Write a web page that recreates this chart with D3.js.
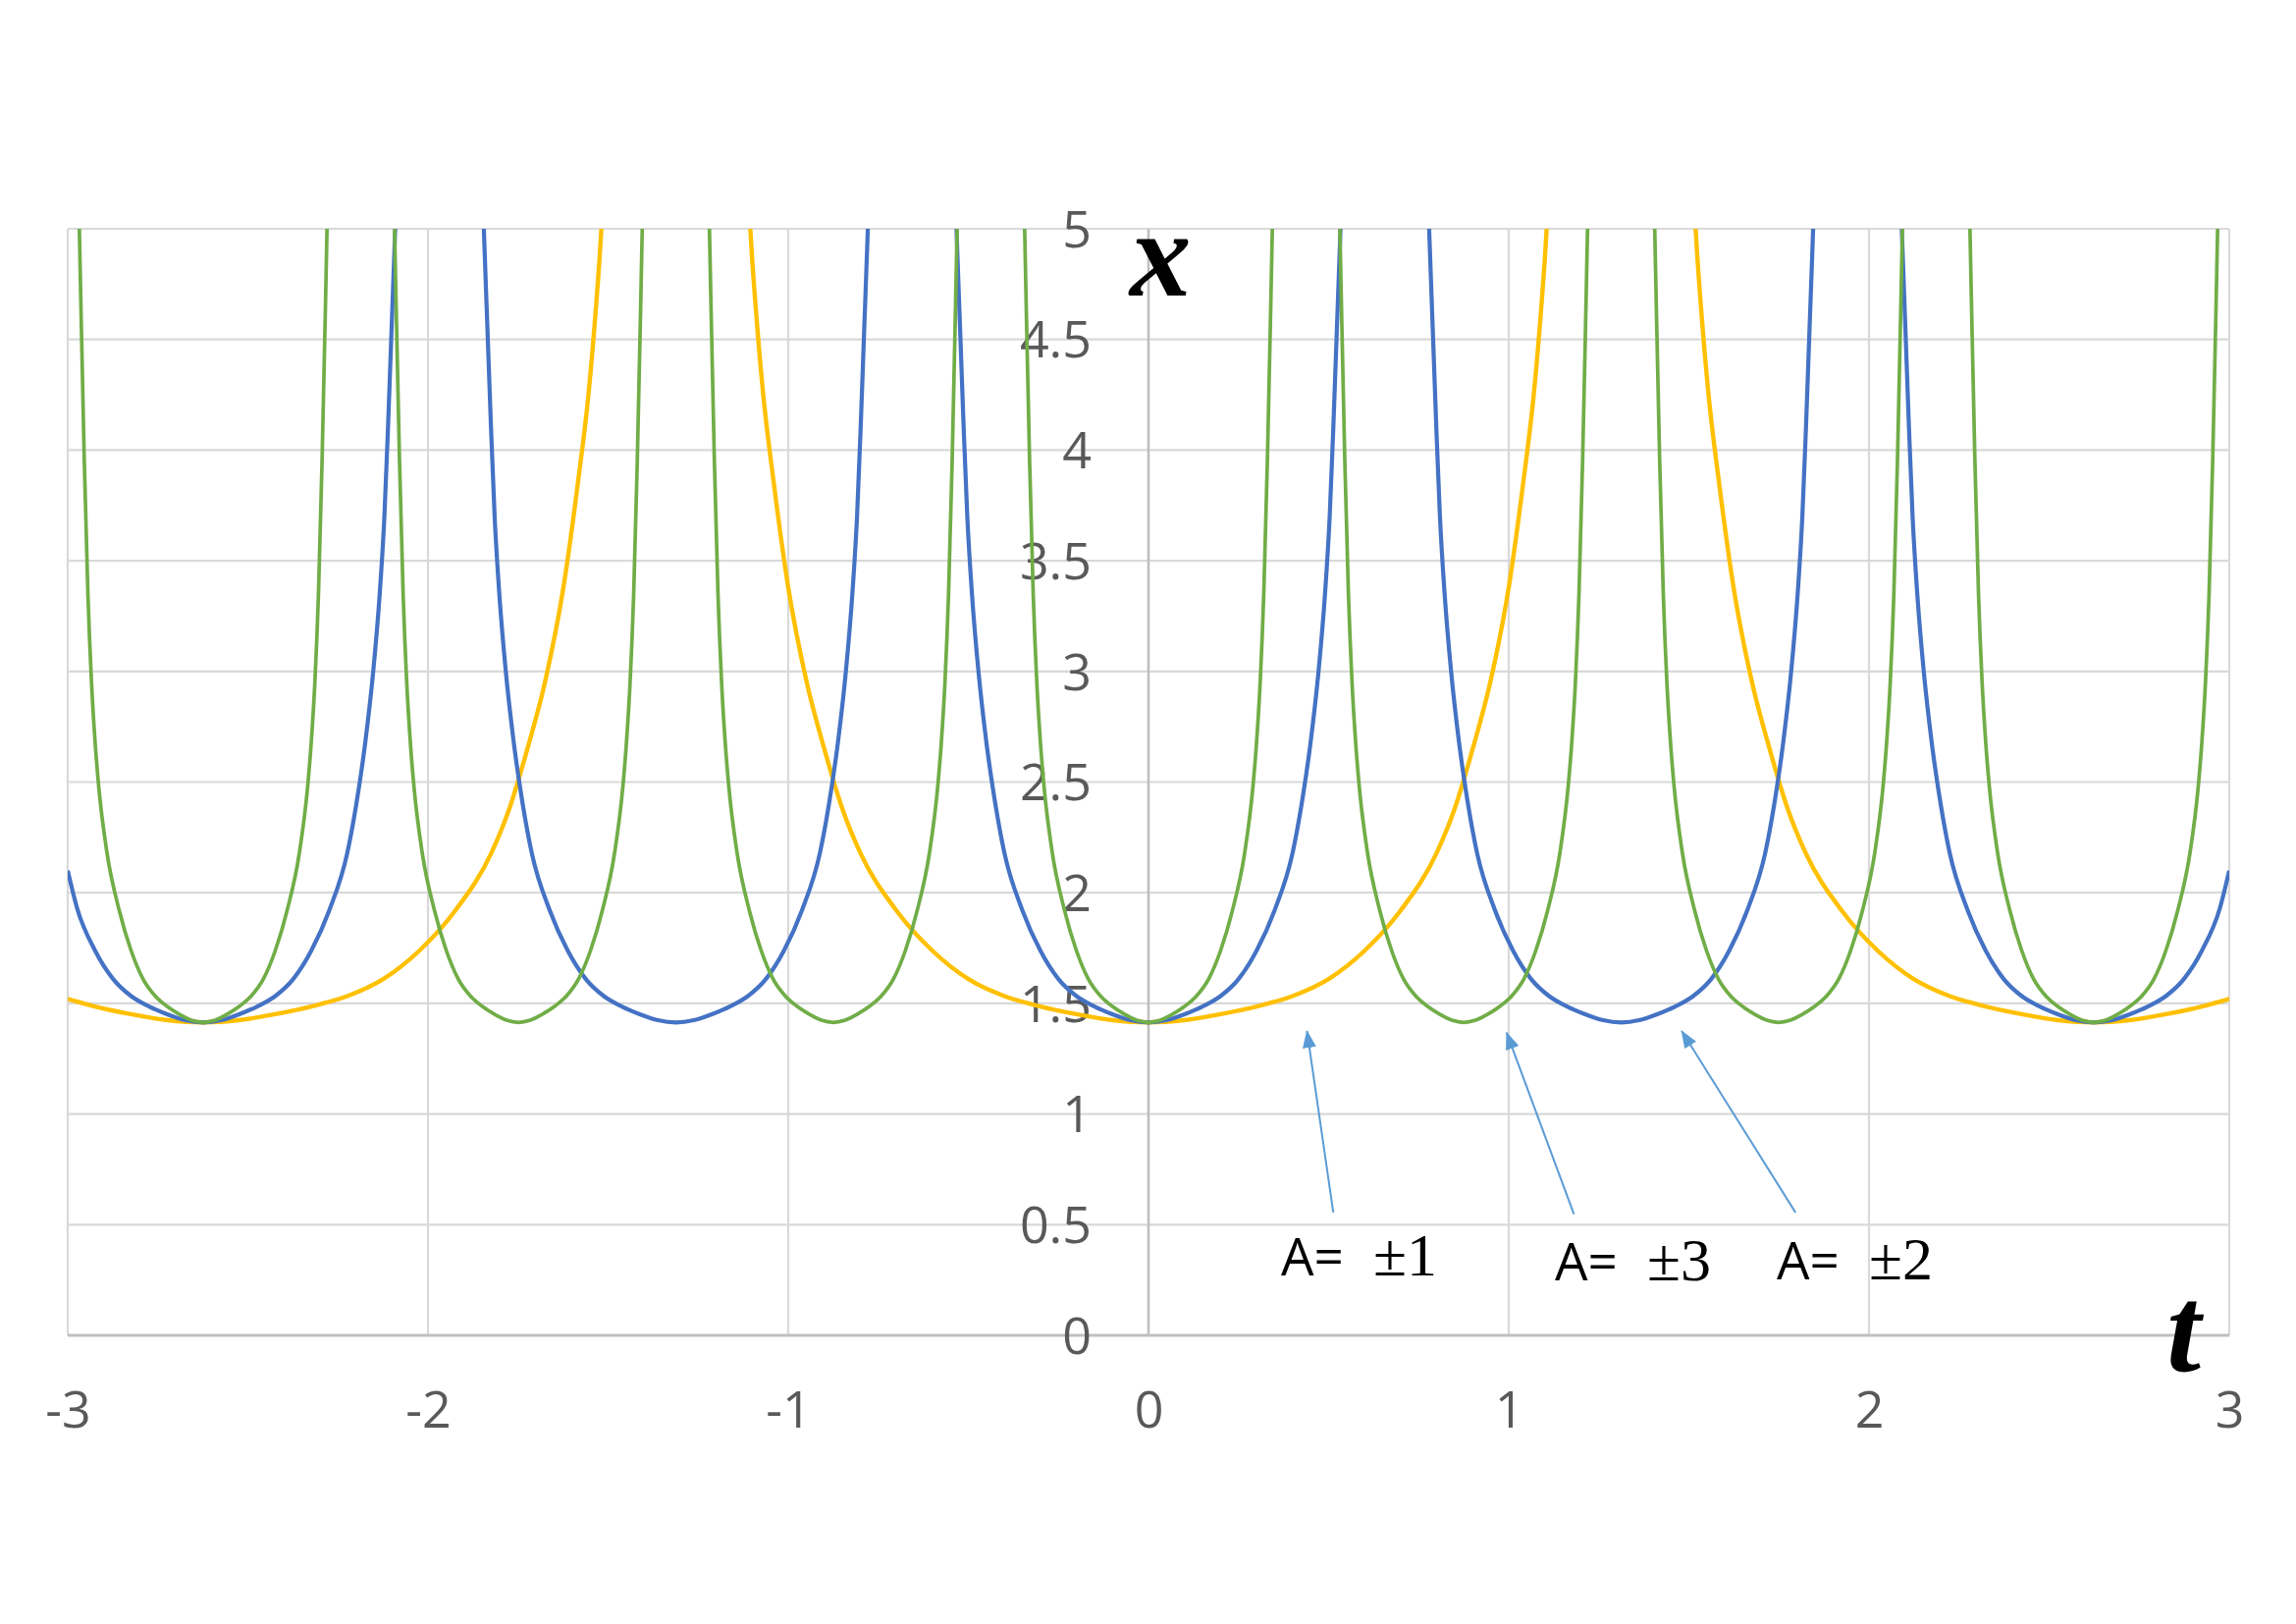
<!DOCTYPE html>
<html><head><meta charset="utf-8">
<script src="https://cdn.jsdelivr.net/npm/d3@7"></script>
<style>html,body{margin:0;padding:0;background:#fff;}</style>
</head><body>
<svg id="chart" width="2339" height="1654"></svg>
<script>
// ---- data ----
const tTicks = [-3, -2, -1, 0, 1, 2, 3];
const xTicks = [0, 0.5, 1, 1.5, 2, 2.5, 3, 3.5, 4, 4.5, 5];

// A = ±1 (yellow) : [t, x], null = break between branches
const seriesA1 = [[-3,1.52],[-2.924,1.486],[-2.824,1.451],[-2.724,1.424],[-2.624,1.414],[-2.524,1.424],[-2.424,1.451],[-2.324,1.486],[-2.224,1.533],[-2.124,1.61],[-2.024,1.738],[-1.924,1.92],[-1.824,2.18],[-1.774,2.38],[-1.724,2.65],[-1.674,2.96],[-1.624,3.38],[-1.584,3.85],[-1.554,4.26],[-1.524,4.86],[-1.494,5.65],
null,
[-1.13,5.65],[-1.1,4.86],[-1.07,4.26],[-1.04,3.85],[-1,3.38],[-0.95,2.96],[-0.9,2.65],[-0.85,2.38],[-0.8,2.18],[-0.7,1.92],[-0.6,1.738],[-0.5,1.61],[-0.4,1.533],[-0.3,1.486],[-0.2,1.451],[-0.1,1.424],[0,1.414],[0.1,1.424],[0.2,1.451],[0.3,1.486],[0.4,1.533],[0.5,1.61],[0.6,1.738],[0.7,1.92],[0.8,2.18],[0.85,2.38],[0.9,2.65],[0.95,2.96],[1,3.38],[1.04,3.85],[1.07,4.26],[1.1,4.86],[1.13,5.65],
null,
[1.494,5.65],[1.524,4.86],[1.554,4.26],[1.584,3.85],[1.624,3.38],[1.674,2.96],[1.724,2.65],[1.774,2.38],[1.824,2.18],[1.924,1.92],[2.024,1.738],[2.124,1.61],[2.224,1.533],[2.324,1.486],[2.424,1.451],[2.524,1.424],[2.624,1.414],[2.724,1.424],[2.824,1.451],[2.924,1.486],[3,1.52]];

// A = ±2 (blue)
const seriesA2 = [[-3,2.1],[-2.974,1.93],[-2.924,1.738],[-2.874,1.61],[-2.824,1.533],[-2.774,1.486],[-2.724,1.451],[-2.674,1.424],[-2.624,1.414],[-2.574,1.424],[-2.524,1.451],[-2.474,1.486],[-2.424,1.533],[-2.374,1.61],[-2.324,1.738],[-2.274,1.92],[-2.224,2.18],[-2.199,2.4],[-2.174,2.68],[-2.152,3.0],[-2.134,3.35],[-2.121,3.7],[-2.111,4.1],[-2.101,4.55],[-2.091,5.0],[-2.079,5.6],
null,
[-1.857,5.6],[-1.845,5.0],[-1.835,4.55],[-1.825,4.1],[-1.815,3.7],[-1.802,3.35],[-1.784,3.0],[-1.762,2.68],[-1.737,2.4],[-1.712,2.18],[-1.662,1.92],[-1.612,1.738],[-1.562,1.61],[-1.512,1.533],[-1.462,1.486],[-1.412,1.451],[-1.362,1.424],[-1.312,1.414],[-1.262,1.424],[-1.212,1.451],[-1.162,1.486],[-1.112,1.533],[-1.062,1.61],[-1.012,1.738],[-0.962,1.92],[-0.912,2.18],[-0.887,2.4],[-0.862,2.68],[-0.84,3.0],[-0.822,3.35],[-0.809,3.7],[-0.799,4.1],[-0.789,4.55],[-0.779,5.0],[-0.767,5.6],
null,
[-0.545,5.6],[-0.533,5.0],[-0.523,4.55],[-0.513,4.1],[-0.503,3.7],[-0.49,3.35],[-0.472,3.0],[-0.45,2.68],[-0.425,2.4],[-0.4,2.18],[-0.35,1.92],[-0.3,1.738],[-0.25,1.61],[-0.2,1.533],[-0.15,1.486],[-0.1,1.451],[-0.05,1.424],[0,1.414],[0.05,1.424],[0.1,1.451],[0.15,1.486],[0.2,1.533],[0.25,1.61],[0.3,1.738],[0.35,1.92],[0.4,2.18],[0.425,2.4],[0.45,2.68],[0.472,3.0],[0.49,3.35],[0.503,3.7],[0.513,4.1],[0.523,4.55],[0.533,5.0],[0.545,5.6],
null,
[0.767,5.6],[0.779,5.0],[0.789,4.55],[0.799,4.1],[0.809,3.7],[0.822,3.35],[0.84,3.0],[0.862,2.68],[0.887,2.4],[0.912,2.18],[0.962,1.92],[1.012,1.738],[1.062,1.61],[1.112,1.533],[1.162,1.486],[1.212,1.451],[1.262,1.424],[1.312,1.414],[1.362,1.424],[1.412,1.451],[1.462,1.486],[1.512,1.533],[1.562,1.61],[1.612,1.738],[1.662,1.92],[1.712,2.18],[1.737,2.4],[1.762,2.68],[1.784,3.0],[1.802,3.35],[1.815,3.7],[1.825,4.1],[1.835,4.55],[1.845,5.0],[1.857,5.6],
null,
[2.079,5.6],[2.091,5.0],[2.101,4.55],[2.111,4.1],[2.121,3.7],[2.134,3.35],[2.152,3.0],[2.174,2.68],[2.199,2.4],[2.224,2.18],[2.274,1.92],[2.324,1.738],[2.374,1.61],[2.424,1.533],[2.474,1.486],[2.524,1.451],[2.574,1.424],[2.624,1.414],[2.674,1.424],[2.724,1.451],[2.774,1.486],[2.824,1.533],[2.874,1.61],[2.924,1.738],[2.974,1.93],[3,2.1]];

// A = ±3 (green)
const seriesA3 = [[-2.974,5.5],[-2.964,4.7],[-2.954,3.95],[-2.944,3.35],[-2.934,2.95],[-2.924,2.68],[-2.914,2.48],[-2.891,2.18],[-2.857,1.92],[-2.824,1.738],[-2.791,1.61],[-2.757,1.533],[-2.724,1.486],[-2.691,1.451],[-2.657,1.424],[-2.624,1.414],[-2.591,1.424],[-2.557,1.451],[-2.524,1.486],[-2.491,1.533],[-2.457,1.61],[-2.424,1.738],[-2.391,1.92],[-2.357,2.18],[-2.334,2.48],[-2.324,2.68],[-2.314,2.95],[-2.304,3.35],[-2.294,3.95],[-2.284,4.7],[-2.274,5.5],
null,
[-2.099,5.5],[-2.089,4.7],[-2.079,3.95],[-2.069,3.35],[-2.059,2.95],[-2.049,2.68],[-2.039,2.48],[-2.016,2.18],[-1.982,1.92],[-1.949,1.738],[-1.916,1.61],[-1.882,1.533],[-1.849,1.486],[-1.816,1.451],[-1.782,1.424],[-1.749,1.414],[-1.716,1.424],[-1.682,1.451],[-1.649,1.486],[-1.616,1.533],[-1.582,1.61],[-1.549,1.738],[-1.516,1.92],[-1.482,2.18],[-1.459,2.48],[-1.449,2.68],[-1.439,2.95],[-1.429,3.35],[-1.419,3.95],[-1.409,4.7],[-1.399,5.5],
null,
[-1.225,5.5],[-1.215,4.7],[-1.205,3.95],[-1.195,3.35],[-1.185,2.95],[-1.175,2.68],[-1.165,2.48],[-1.142,2.18],[-1.108,1.92],[-1.075,1.738],[-1.042,1.61],[-1.008,1.533],[-0.975,1.486],[-0.942,1.451],[-0.908,1.424],[-0.875,1.414],[-0.842,1.424],[-0.808,1.451],[-0.775,1.486],[-0.742,1.533],[-0.708,1.61],[-0.675,1.738],[-0.642,1.92],[-0.608,2.18],[-0.585,2.48],[-0.575,2.68],[-0.565,2.95],[-0.555,3.35],[-0.545,3.95],[-0.535,4.7],[-0.525,5.5],
null,
[-0.35,5.5],[-0.34,4.7],[-0.33,3.95],[-0.32,3.35],[-0.31,2.95],[-0.3,2.68],[-0.29,2.48],[-0.267,2.18],[-0.233,1.92],[-0.2,1.738],[-0.167,1.61],[-0.133,1.533],[-0.1,1.486],[-0.067,1.451],[-0.033,1.424],[0,1.414],[0.033,1.424],[0.067,1.451],[0.1,1.486],[0.133,1.533],[0.167,1.61],[0.2,1.738],[0.233,1.92],[0.267,2.18],[0.29,2.48],[0.3,2.68],[0.31,2.95],[0.32,3.35],[0.33,3.95],[0.34,4.7],[0.35,5.5],
null,
[0.525,5.5],[0.535,4.7],[0.545,3.95],[0.555,3.35],[0.565,2.95],[0.575,2.68],[0.585,2.48],[0.608,2.18],[0.642,1.92],[0.675,1.738],[0.708,1.61],[0.742,1.533],[0.775,1.486],[0.808,1.451],[0.842,1.424],[0.875,1.414],[0.908,1.424],[0.942,1.451],[0.975,1.486],[1.008,1.533],[1.042,1.61],[1.075,1.738],[1.108,1.92],[1.142,2.18],[1.165,2.48],[1.175,2.68],[1.185,2.95],[1.195,3.35],[1.205,3.95],[1.215,4.7],[1.225,5.5],
null,
[1.399,5.5],[1.409,4.7],[1.419,3.95],[1.429,3.35],[1.439,2.95],[1.449,2.68],[1.459,2.48],[1.482,2.18],[1.516,1.92],[1.549,1.738],[1.582,1.61],[1.616,1.533],[1.649,1.486],[1.682,1.451],[1.716,1.424],[1.749,1.414],[1.782,1.424],[1.816,1.451],[1.849,1.486],[1.882,1.533],[1.916,1.61],[1.949,1.738],[1.982,1.92],[2.016,2.18],[2.039,2.48],[2.049,2.68],[2.059,2.95],[2.069,3.35],[2.079,3.95],[2.089,4.7],[2.099,5.5],
null,
[2.274,5.5],[2.284,4.7],[2.294,3.95],[2.304,3.35],[2.314,2.95],[2.324,2.68],[2.334,2.48],[2.357,2.18],[2.391,1.92],[2.424,1.738],[2.457,1.61],[2.491,1.533],[2.524,1.486],[2.557,1.451],[2.591,1.424],[2.624,1.414],[2.657,1.424],[2.691,1.451],[2.724,1.486],[2.757,1.533],[2.791,1.61],[2.824,1.738],[2.857,1.92],[2.891,2.18],[2.914,2.48],[2.924,2.68],[2.934,2.95],[2.944,3.35],[2.954,3.95],[2.964,4.7],[2.974,5.5]];

const annotationTexts = ["\u00B11", "\u00B13", "\u00B12"];

// ---- layout ----
const W = 2339, H = 1654;
const plot = {left: 69, right: 2271, top: 233, bottom: 1360};
const svg = d3.select("#chart");
svg.append("rect").attr("width", W).attr("height", H).attr("fill", "#fff");

const x = d3.scaleLinear().domain([-3, 3]).range([plot.left, plot.right]);
const y = d3.scaleLinear().domain([0, 5]).range([plot.bottom, plot.top]);

const gridColor = "#D9D9D9", axisColor = "#BFBFBF", labelColor = "#595959";

// gridlines
const grid = svg.append("g");
grid.selectAll("line.h").data(xTicks.filter(v => v !== 0)).join("line")
  .attr("x1", plot.left).attr("x2", plot.right)
  .attr("y1", d => y(d)).attr("y2", d => y(d))
  .attr("stroke", gridColor).attr("stroke-width", 2.2);
grid.selectAll("line.v").data(tTicks.filter(v => v !== 0)).join("line")
  .attr("x1", d => x(d)).attr("x2", d => x(d))
  .attr("y1", plot.top).attr("y2", plot.bottom)
  .attr("stroke", gridColor).attr("stroke-width", 2.2);

// axis lines
svg.append("line").attr("x1", x(0)).attr("x2", x(0)).attr("y1", plot.top).attr("y2", plot.bottom)
  .attr("stroke", axisColor).attr("stroke-width", 2.6);
svg.append("line").attr("x1", plot.left).attr("x2", plot.right).attr("y1", y(0)).attr("y2", y(0))
  .attr("stroke", axisColor).attr("stroke-width", 3);

// axes labels via d3 axes
const fontSans = "'Open Sans', 'Noto Sans', sans-serif";
const yAxis = svg.append("g").attr("transform", `translate(${x(0)},0)`)
  .call(d3.axisLeft(y).tickValues(xTicks).tickSize(0).tickPadding(58).tickFormat(d => String(d)));
yAxis.select(".domain").remove();
yAxis.selectAll("text").attr("font-family", fontSans).attr("font-size", 52)
  .attr("fill", labelColor).attr("dy", "0.35em");

const xAxis = svg.append("g").attr("transform", `translate(0,${y(0)})`)
  .call(d3.axisBottom(x).tickValues(tTicks).tickSize(0).tickFormat(d => String(d)));
xAxis.select(".domain").remove();
xAxis.selectAll("text").attr("font-family", fontSans).attr("font-size", 52)
  .attr("fill", labelColor).attr("y", 94).attr("dy", "0");

// clip
const defs = svg.append("defs");
defs.append("clipPath").attr("id", "plotClip")
  .append("rect").attr("x", plot.left).attr("y", plot.top)
  .attr("width", plot.right - plot.left).attr("height", plot.bottom - plot.top);

const line = d3.line().defined(d => d !== null)
  .x(d => x(d[0])).y(d => y(d[1])).curve(d3.curveMonotoneX);

const lines = svg.append("g").attr("clip-path", "url(#plotClip)");
const series = [
  {data: seriesA1, color: "#FFC000", w: 4.4},
  {data: seriesA2, color: "#4472C4", w: 4.2},
  {data: seriesA3, color: "#70AD47", w: 3.7}
];
series.forEach(s => {
  lines.append("path").datum(s.data).attr("d", line)
    .attr("fill", "none").attr("stroke", s.color).attr("stroke-width", s.w)
    .attr("stroke-linejoin", "round");
});

// axis titles
const fontMath = "'Liberation Serif', 'DejaVu Serif', serif";
svg.append("text").attr("x", x(-0.052)).attr("y", y(4.70)).text("x")
  .attr("font-family", fontMath).attr("font-style", "italic").attr("font-weight", "bold")
  .attr("font-size", 125).attr("fill", "#000");
svg.append("text").attr("x", x(2.826)).attr("y", y(-0.16)).text("t")
  .attr("font-family", fontMath).attr("font-style", "italic").attr("font-weight", "bold")
  .attr("font-size", 125).attr("fill", "#000");

// annotations (arrows + labels), positioned in data units
const arrowColor = "#5B9BD5";
defs.append("marker").attr("id", "arrowHead")
  .attr("markerUnits", "userSpaceOnUse").attr("markerWidth", 18).attr("markerHeight", 14)
  .attr("refX", 17).attr("refY", 7).attr("orient", "auto")
  .append("path").attr("d", "M0,0 L18,7 L0,14 Z").attr("fill", arrowColor);

const annot = [
  {txt: annotationTexts[0], tt: 0.368, tx: 0.271, t0: 0.513, x0: 0.555, t1: 0.440, x1: 1.375},
  {txt: annotationTexts[1], tt: 1.128, tx: 0.248, t0: 1.181, x0: 0.547, t1: 0.994, x1: 1.368},
  {txt: annotationTexts[2], tt: 1.744, tx: 0.253, t0: 1.796, x0: 0.555, t1: 1.480, x1: 1.375}
];
annot.forEach(a => {
  svg.append("line").attr("x1", x(a.t0)).attr("y1", y(a.x0)).attr("x2", x(a.t1)).attr("y2", y(a.x1))
    .attr("stroke", arrowColor).attr("stroke-width", 2).attr("marker-end", "url(#arrowHead)");
  svg.append("text").attr("x", x(a.tt)).attr("y", y(a.tx)).text("A=")
    .attr("font-family", fontSans).attr("font-size", 53).attr("fill", "#000");
  svg.append("text").attr("x", x(a.tt) + 94).attr("y", y(a.tx)).text(a.txt)
    .attr("font-family", fontMath).attr("font-size", 62).attr("fill", "#000");
});
</script>
</body></html>
